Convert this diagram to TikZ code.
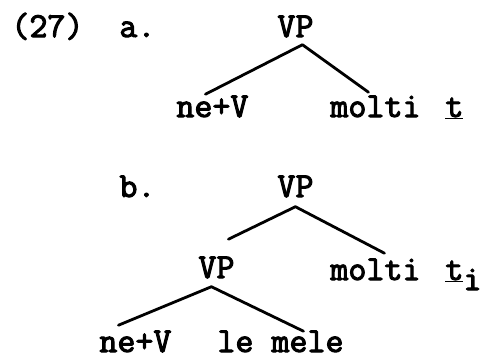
\documentclass[tikz,border=0pt]{standalone}
\usepackage{fontspec}
\setmonofont{Latin Modern Mono}[AutoFakeBold=3]
\begin{document}
\begin{tikzpicture}[x=1pt, y=-1pt, line width=2.8pt, line cap=round, line join=round,
	every node/.style={font=\fontsize{35}{40}\selectfont\ttfamily\bfseries, inner sep=0pt, anchor=base west}]
	\useasboundingbox (0,0) rectangle (482,360);
	% (27a)
	\node (num) at (10,37) {(27)};
	\node (la) at (118,37) {a.};
	\node (vpa) at (276,37) {VP};
	\node (nva) at (175,117) {ne+V};
	\node (mola) at (329,117) {molti};
	\node (ta) at (444,117) {\underline{t}};
	\draw ([xshift=-7pt]nva.north)--([xshift=7pt,yshift=-6pt]vpa.south)--([xshift=-7pt,yshift=2pt]mola.north);
	% (27b)
	\node (lb) at (118,197) {b.};
	\node (vpb) at (276,197) {VP};
	\node (vpi) at (197,278) {VP};
	\node (molb) at (329,280) {molti};
	\node (tb) at (444,280) {\underline{t}\raisebox{-10pt}{i}};
	\node (nvb) at (98,352) {ne+V};
	\node (mele) at (216,352) {le mele};
	\draw ([xshift=12pt,yshift=16pt]vpi.north)--([yshift=-8pt]vpb.south)--([xshift=9pt,yshift=4pt]molb.north);
	\draw ([xshift=-17pt,yshift=4pt]nvb.north)--([xshift=-5pt,yshift=-7pt]vpi.south)--([xshift=23pt,yshift=-2pt]mele.north);
\end{tikzpicture}
\end{document}
